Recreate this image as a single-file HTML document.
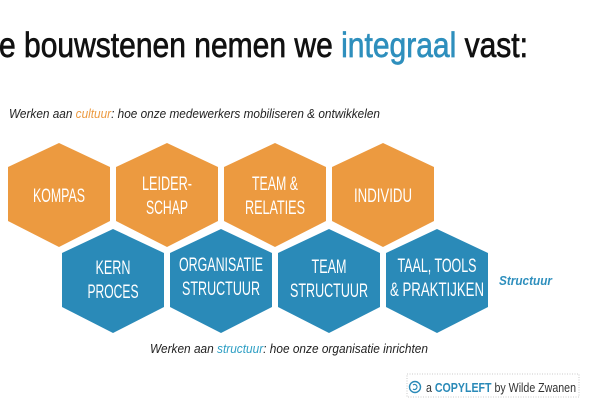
<!DOCTYPE html>
<html><head><meta charset="utf-8"><style>
html,body{margin:0;padding:0;background:#fff;}
svg{display:block;}
text{font-family:"Liberation Sans",sans-serif;}
</style></head><body>
<svg width="600" height="400" viewBox="0 0 600 400" xmlns="http://www.w3.org/2000/svg">
<defs>
<polygon id="hx" points="0,-52 51,-28 51,26 0,52 -51,26 -51,-28"/>
</defs>
<text x="-1" y="57" font-size="35" fill="#111" stroke="#111" stroke-width="0.7" textLength="529" lengthAdjust="spacingAndGlyphs">e bouwstenen nemen we <tspan fill="#2e8fbd" stroke="#2e8fbd">integraal</tspan> vast:</text>
<text x="9" y="118" font-size="13" font-style="italic" fill="#222" textLength="371" lengthAdjust="spacingAndGlyphs">Werken aan <tspan fill="#ec9a40">cultuur</tspan>: hoe onze medewerkers mobiliseren &amp; ontwikkelen</text>

<g fill="#ec9a40">
<use href="#hx" x="59" y="195"/><use href="#hx" x="167" y="195"/><use href="#hx" x="275" y="195"/><use href="#hx" x="383" y="195"/>
</g>
<g fill="#2a8ab8">
<use href="#hx" x="113" y="281"/><use href="#hx" x="221" y="281"/><use href="#hx" x="329" y="281"/><use href="#hx" x="437" y="281"/>
</g>
<g fill="#fff" font-size="19" text-anchor="middle">
<text x="59" y="202" textLength="52" lengthAdjust="spacingAndGlyphs">KOMPAS</text>
<text x="167" y="190" textLength="50" lengthAdjust="spacingAndGlyphs">LEIDER-</text>
<text x="167" y="214" textLength="42" lengthAdjust="spacingAndGlyphs">SCHAP</text>
<text x="275" y="190" textLength="46" lengthAdjust="spacingAndGlyphs">TEAM &amp;</text>
<text x="275" y="214" textLength="60" lengthAdjust="spacingAndGlyphs">RELATIES</text>
<text x="383" y="202" textLength="58" lengthAdjust="spacingAndGlyphs">INDIVIDU</text>
<text x="113" y="274" textLength="35" lengthAdjust="spacingAndGlyphs">KERN</text>
<text x="113" y="298" textLength="51" lengthAdjust="spacingAndGlyphs">PROCES</text>
<text x="221" y="271" textLength="84" lengthAdjust="spacingAndGlyphs">ORGANISATIE</text>
<text x="221" y="295" textLength="78" lengthAdjust="spacingAndGlyphs">STRUCTUUR</text>
<text x="329" y="273" textLength="35" lengthAdjust="spacingAndGlyphs">TEAM</text>
<text x="329" y="297" textLength="78" lengthAdjust="spacingAndGlyphs">STRUCTUUR</text>
<text x="437" y="272" textLength="79" lengthAdjust="spacingAndGlyphs">TAAL, TOOLS</text>
<text x="437" y="296" textLength="94" lengthAdjust="spacingAndGlyphs">&amp; PRAKTIJKEN</text>
</g>
<text x="499" y="285" font-size="13" font-weight="bold" font-style="italic" fill="#2e8fbd" textLength="53" lengthAdjust="spacingAndGlyphs">Structuur</text>
<text x="150" y="353" font-size="13" font-style="italic" fill="#222" textLength="278" lengthAdjust="spacingAndGlyphs">Werken aan <tspan fill="#2e9fc4">structuur</tspan>: hoe onze organisatie inrichten</text>
<rect x="407" y="374" width="172" height="23" fill="#fff" stroke="#bbb" stroke-width="0.8" stroke-dasharray="1,1.5"/>
<circle cx="415" cy="387" r="5.5" fill="none" stroke="#2a8ab8" stroke-width="1.4"/>
<path d="M413,385 a2.5,2.5 0 1 1 0,4" fill="none" stroke="#2a8ab8" stroke-width="1.2"/>
<text x="426" y="392" font-size="13" fill="#333" textLength="150" lengthAdjust="spacingAndGlyphs">a <tspan font-weight="bold" fill="#2a8ab8">COPYLEFT</tspan> by Wilde Zwanen</text>
</svg>
</body></html>
